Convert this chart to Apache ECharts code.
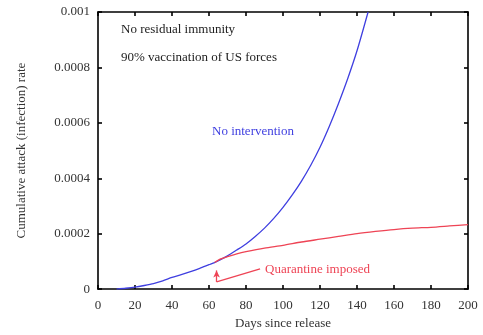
<!DOCTYPE html>
<html>
<head>
<meta charset="utf-8">
<script src="https://cdn.jsdelivr.net/npm/echarts@6/dist/echarts.min.js"></script>
<style>
html, body { margin: 0; padding: 0; background: #fff; }
#chart { width: 483px; height: 335px; }
</style>
</head>
<body>
<div id="chart"></div>
<script>
// 曲线数据
var blueDays = [10, 15, 20, 25, 30, 35, 40, 45, 50, 55, 60, 63, 70, 75, 80, 85, 90, 95, 100, 105, 110, 115, 120, 125, 130, 135, 140, 146];
var blueRates = [0, 0.000003, 0.000007, 0.000013, 0.00002, 0.00003, 0.000042, 0.000052, 0.000063, 0.000075, 0.000088, 0.0000957, 0.00012, 0.000141, 0.000163, 0.00019, 0.00022, 0.000255, 0.000295, 0.00034, 0.00039, 0.000447, 0.000512, 0.000587, 0.00067, 0.00076, 0.00086, 0.001];

var redDays = [63, 66, 70, 75, 80, 90, 100, 110, 120, 130, 140, 150, 160, 170, 180, 190, 200];
var redRates = [0.0000957, 0.000108, 0.000117, 0.000127, 0.000135, 0.000148, 0.000158, 0.00017, 0.00018, 0.00019, 0.0002, 0.000208, 0.000215, 0.00022, 0.000223, 0.000228, 0.000233];

// 隔离箭头: 拐点, 箭头顶端, 斜线终点
var arrowCorner = [64.1, 0.0000259];
var arrowTip = [64.1, 0.0000674];
var arrowEnd = [87.6, 0.0000734];

var xTickLabels = ['0', '20', '40', '60', '80', '100', '120', '140', '160', '180', '200'];
var yTickLabels = ['0', '0.0002', '0.0004', '0.0006', '0.0008', '0.001'];

var blueColor = '#3f3fe0';
var redColor = '#ee4455';
var serif = 'Liberation Serif';

function pairs(xs, ys) {
    var out = [];
    for (var i = 0; i < xs.length; i++) {
        out.push([xs[i], ys[i]]);
    }
    return out;
}

var myChart = echarts.init(document.getElementById('chart'));

var axisLine = { show: true, onZero: false, lineStyle: { color: '#000', width: 1.6 } };
var axisTick = { show: true, inside: true, length: 4, lineStyle: { color: '#000', width: 1.6 } };

var option = {
    backgroundColor: '#fff',
    animation: false,
    grid: { left: 98, top: 12, right: 15, bottom: 41 },
    xAxis: [{
        type: 'value',
        min: 0, max: 200, interval: 20,
        name: 'Days since release',
        nameLocation: 'middle',
        nameGap: 27,
        nameTextStyle: { fontFamily: serif, fontSize: 13, color: '#333' },
        axisLine: axisLine,
        axisTick: axisTick,
        splitLine: { show: false },
        axisLabel: {
            margin: 10,
            fontFamily: serif, fontSize: 13, color: '#333',
            formatter: function (v) { return xTickLabels[Math.round(v / 20)]; }
        }
    }, {
        type: 'value', position: 'top',
        min: 0, max: 200, interval: 20,
        axisLine: axisLine, axisTick: axisTick,
        axisLabel: { show: false }, splitLine: { show: false }
    }],
    yAxis: [{
        type: 'value',
        min: 0, max: 0.001, interval: 0.0002,
        name: 'Cumulative attack (infection) rate',
        nameLocation: 'middle',
        nameGap: 70,
        nameTextStyle: { fontFamily: serif, fontSize: 13, color: '#333' },
        axisLine: axisLine,
        axisTick: axisTick,
        splitLine: { show: false },
        axisLabel: {
            margin: 8,
            fontFamily: serif, fontSize: 13, color: '#333',
            formatter: function (v) { return yTickLabels[Math.round(v / 0.0002)]; }
        }
    }, {
        type: 'value', position: 'right',
        min: 0, max: 0.001, interval: 0.0002,
        axisLine: axisLine, axisTick: axisTick,
        axisLabel: { show: false }, splitLine: { show: false }
    }],
    graphic: [
        { type: 'text', left: 121, top: 23, style: { text: 'No residual immunity', font: '13px "Liberation Serif"', fill: '#222' } },
        { type: 'text', left: 121, top: 51, style: { text: '90% vaccination of US forces', font: '13px "Liberation Serif"', fill: '#222' } },
        { type: 'text', left: 212, top: 125, style: { text: 'No intervention', font: '13px "Liberation Serif"', fill: blueColor } },
        { type: 'text', left: 265, top: 263, style: { text: 'Quarantine imposed', font: '13px "Liberation Serif"', fill: redColor } }
    ],
    series: [{
        name: 'No intervention',
        type: 'line',
        data: pairs(blueDays, blueRates),
        smooth: 0.25,
        showSymbol: false,
        lineStyle: { color: blueColor, width: 1.3 },
        itemStyle: { color: blueColor }
    }, {
        name: 'Quarantine imposed',
        type: 'line',
        data: pairs(redDays, redRates),
        smooth: 0.25,
        showSymbol: false,
        lineStyle: { color: redColor, width: 1.3 },
        itemStyle: { color: redColor },
        markLine: {
            silent: true,
            symbol: ['none', 'none'],
            label: { show: false },
            lineStyle: { color: redColor, width: 1.3, type: 'solid' },
            data: [
                [{ coord: arrowCorner }, { coord: arrowTip, symbol: 'arrow', symbolSize: [5, 7] }],
                [{ coord: arrowCorner }, { coord: arrowEnd }]
            ]
        }
    }]
};

myChart.setOption(option);
</script>
</body>
</html>
